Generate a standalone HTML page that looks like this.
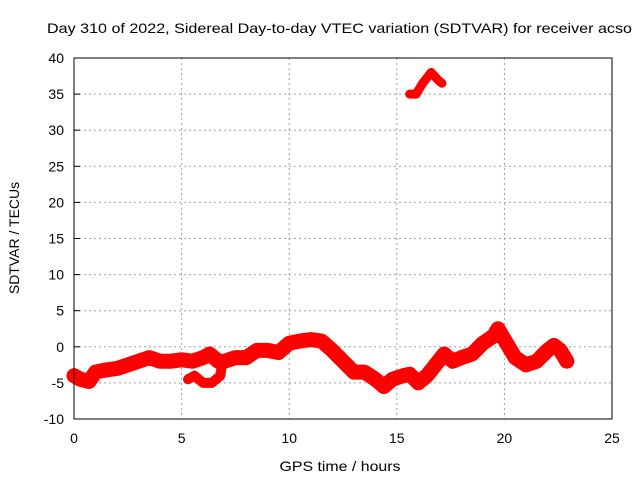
<!DOCTYPE html>
<html><head><meta charset="utf-8"><style>
body{margin:0;background:#fff}
svg text{font-family:"Liberation Sans",sans-serif;font-size:14px;fill:#000}
</style></head><body>
<svg id="c" width="640" height="480">
<text x="47" y="33" textLength="585" lengthAdjust="spacingAndGlyphs">Day 310 of 2022, Sidereal Day-to-day VTEC variation (SDTVAR) for receiver acso</text>
<text x="340" y="471" text-anchor="middle" textLength="121" lengthAdjust="spacingAndGlyphs">GPS time / hours</text>
<text transform="translate(19,238) rotate(-90)" text-anchor="middle">SDTVAR / TECUs</text>
<g id="grid"></g><g id="ticks"></g><g id="series"></g>
<rect x="74" y="58" width="538" height="361" fill="none" stroke="#000" stroke-width="1"/>
</svg>
<script>
const xTicks=[0,5,10,15,20,25];
const yTicks=[-10,-5,0,5,10,15,20,25,30,35,40];
const mainHours=[0,0.3,0.7,1,1.5,2,2.5,3,3.5,4,4.5,5,5.5,6,6.3,6.7,7,7.5,8,8.5,9,9.5,10,10.5,11,11.5,12,12.5,13,13.5,14,14.4,14.8,15.3,15.6,16,16.4,16.8,17.2,17.6,18,18.5,19,19.5,19.7,20,20.5,21,21.5,22,22.3,22.6,22.9];
const mainValues=[-4,-4.5,-4.8,-3.5,-3.2,-3,-2.5,-2,-1.5,-2,-2,-1.8,-2,-1.5,-1,-2,-2,-1.5,-1.5,-0.5,-0.5,-0.8,0.5,0.8,1,0.8,-0.5,-2,-3.5,-3.5,-4.5,-5.5,-4.5,-4,-3.8,-5,-4,-2.5,-1,-2,-1.5,-1,0.5,1.5,2.5,1,-1.5,-2.5,-2,-0.5,0.2,-0.5,-2];
const lowHours=[5.3,5.6,6,6.4,6.8,6.9];
const lowValues=[-4.5,-4,-5,-5,-4,-2];
const topHours=[15.6,15.9,16.2,16.6,16.9,17.1];
const topValues=[35,35,36.5,38,37,36.5];
const X=h=>74+h*538/25, Y=v=>419-(v+10)*361/50;
const NS="http://www.w3.org/2000/svg";
const grid=document.getElementById('grid'),ticks=document.getElementById('ticks'),ser=document.getElementById('series');
function mk(tag,attrs,parent){const e=document.createElementNS(NS,tag);for(const k in attrs)e.setAttribute(k,attrs[k]);parent.appendChild(e);return e;}
xTicks.forEach(t=>{
 if(t>0&&t<25){const g=mk('line',{x1:X(t),x2:X(t),y1:58,y2:419,stroke:'#a0a0a0','stroke-dasharray':'2,3'},grid);
 
 }
 const l=mk('text',{x:X(t),y:443,'text-anchor':'middle'},ticks);l.textContent=t;
 
 
});
yTicks.forEach(t=>{
 if(t>-10&&t<40){const g=mk('line',{x1:74,x2:612,y1:Y(t),y2:Y(t),stroke:'#a0a0a0','stroke-dasharray':'2,3'},grid);
 
 }
 mk('line',{x1:74,x2:80,y1:Y(t),y2:Y(t),stroke:'#000'},ticks);
 const l=mk('text',{x:64,y:Y(t)+5,'text-anchor':'end'},ticks);l.textContent=t;
 
 
});
function band(hs,vs,w,name){
 const p=mk('polyline',{points:hs.map((h,i)=>X(h)+','+Y(vs[i])).join(' '),fill:'none',stroke:'#ff0000','stroke-width':w,'stroke-linejoin':'round','stroke-linecap':'round'},ser);
 
 
}
band(mainHours,mainValues,15,'sdtvar-main-series');
band(lowHours,lowValues,10,'sdtvar-lower-branch');
band(topHours,topValues,9,'sdtvar-outlier-series');
</script>
</body></html>
